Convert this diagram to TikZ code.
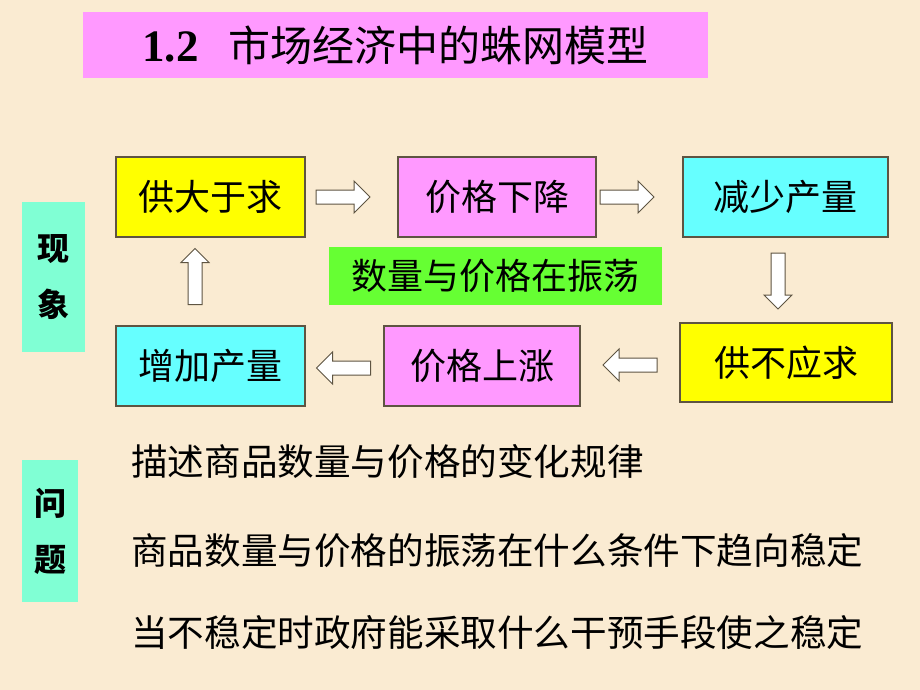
\documentclass[tikz,border=0pt]{standalone}
\usepackage{fontspec}
\setmainfont{Noto Sans CJK SC}
\newfontfamily\numfont{Liberation Serif}
\usepackage{tikz}
\usetikzlibrary{shapes.arrows,positioning,calc}
\usepackage{xcolor}
\definecolor{bgbeige}{HTML}{FAEBD2}
\definecolor{boxpink}{HTML}{FF99FF}
\definecolor{boxyellow}{HTML}{FFFF00}
\definecolor{boxcyan}{HTML}{66FFFF}
\definecolor{boxgreen}{HTML}{66FF33}
\definecolor{tagaqua}{HTML}{80FFD4}
\definecolor{edgebrown}{HTML}{5E5442}

\begin{document}
\begin{tikzpicture}[x=1pt, y=-1pt,
  box/.style={draw=edgebrown, line width=1.2pt, inner sep=0pt, minimum height=80pt,
              font=\fontsize{36}{40}\selectfont},
  tag/.style={fill=tagaqua, inner sep=0pt, align=center, font=\fontsize{32}{56}\selectfont\bfseries},
  blockarr/.style={single arrow, draw=edgebrown, fill=white, line width=1pt, inner sep=6.5pt,
                   minimum height=54pt, single arrow head extend=9pt, single arrow head indent=0pt},
  question/.style={anchor=west, inner sep=0pt, font=\fontsize{36.6}{40}\selectfont}]
  \useasboundingbox[fill=bgbeige] (0,0) rectangle (920,690);
  % Title
  \node[fill=boxpink, minimum width=625pt, minimum height=66pt, inner sep=0pt] (title) at (395.5,45)
       {{\numfont\bfseries\fontsize{45}{48}\selectfont 1.2}\hspace{30pt}{\fontsize{42}{46}\selectfont 市场经济中的蛛网模型}};
  % The cycle boxes
  \node[box, fill=boxyellow, minimum width=189pt] (glut) at (210.5,197) {供大于求};
  \node[box, fill=boxpink, minimum width=198pt] (fall) at (497,197) {价格下降};
  \node[box, fill=boxcyan, minimum width=205pt] (cut) at (785.5,197) {减少产量};
  \node[box, fill=boxyellow, minimum width=212pt, minimum height=79pt] (short) at (786,362.5) {供不应求};
  \node[box, fill=boxpink, minimum width=196pt] (rise) at (482,366) {价格上涨};
  \node[box, fill=boxcyan, minimum width=189pt] (grow) at (210.5,366) {增加产量};
  \node[fill=boxgreen, minimum width=333pt, minimum height=58pt, inner sep=0pt,
        font=\fontsize{36}{40}\selectfont] (osc) at (495.5,276) {数量与价格在振荡};
  % Block arrows
  \node[blockarr] (a1) at (339.5,197) {};
  \node[blockarr] (a2) at (623.5,197) {};
  \node[blockarr, rotate=-90, minimum height=56pt, single arrow head extend=7pt] (a3) at (778,277.5) {};
  \node[blockarr, rotate=180] (a4) at (633.5,365) {};
  \node[blockarr, rotate=180] (a5) at (347,368) {};
  \node[blockarr, rotate=90, minimum height=56pt, single arrow head extend=7pt] (a6) at (195,280) {};
  % Side tags
  \node[tag, minimum width=63pt, minimum height=150pt] (phen) at (53.5,277) {现\\象};
  \node[tag, minimum width=56pt, minimum height=142pt] (prob) at (50,531) {问\\题};
  % Questions
  \node[question] (q1) at (131,462) {描述商品数量与价格的变化规律};
  \node[question] (q2) at (131,551) {商品数量与价格的振荡在什么条件下趋向稳定};
  \node[question] (q3) at (131,632) {当不稳定时政府能采取什么干预手段使之稳定};
\end{tikzpicture}
\end{document}
